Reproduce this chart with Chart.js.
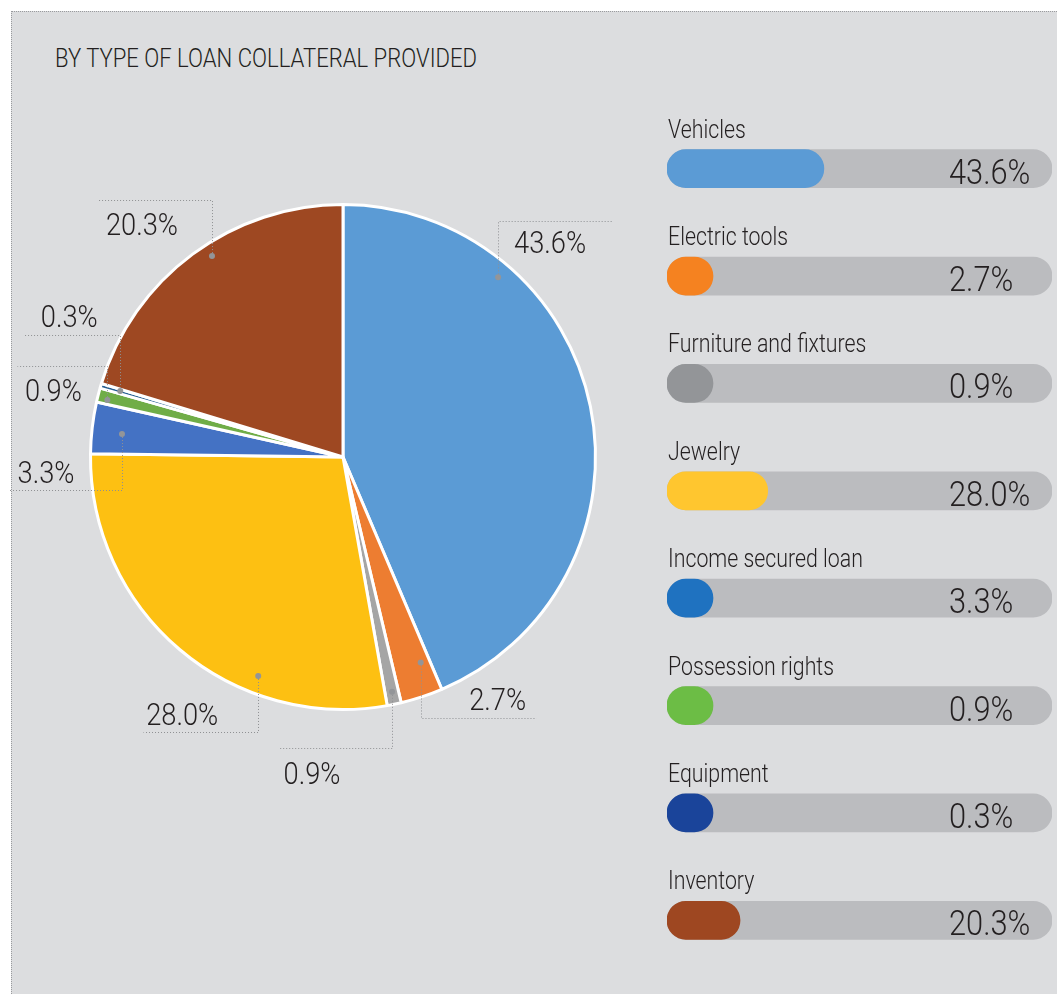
<!DOCTYPE html>
<html>
<head>
<meta charset="utf-8">
<script src="https://cdn.jsdelivr.net/npm/chart.js@4.4.1/dist/chart.umd.min.js"></script>
<style>
  body { margin: 0; background: #ffffff; width: 1057px; height: 994px; position: relative; overflow: hidden; }
  #frame { position: absolute; left: 11px; top: 11px; width: 1046px; height: 983px; background: #dcdddf;
           border-top: 1px dotted #9a9b9e; border-left: 1px dotted #9a9b9e; box-sizing: border-box; }
  #title { position: absolute; left: 55px; top: 45px; font: 300 26px Roboto, "Liberation Sans", sans-serif;
           color: #231f20; line-height: 26px; white-space: nowrap; transform: scaleX(0.85); transform-origin: left top; }
  #pie { position: absolute; left: 0; top: 150px; }
  #bars { position: absolute; left: 667px; top: 115px; }
</style>
</head>
<body>
<div id="frame"></div>
<div id="title">BY TYPE OF LOAN COLLATERAL PROVIDED</div>
<canvas id="pie" width="640" height="660"></canvas>
<canvas id="bars" width="385" height="859"></canvas>
<script>
// data
const categories = ['Vehicles', 'Electric tools', 'Furniture and fixtures', 'Jewelry',
                    'Income secured loan', 'Possession rights', 'Equipment', 'Inventory'];
const shares = [43.6, 2.7, 0.9, 28.0, 3.3, 0.9, 0.3, 20.3];
const pieColors = ['#5b9bd5', '#ed7d31', '#a5a5a5', '#fdc012', '#4472c4', '#70ad47', '#255e91', '#9e4822'];
const barColors = ['#5b9bd5', '#f58220', '#939598', '#ffc62f', '#1f72c0', '#6cbd45', '#1a449a', '#9e4721'];
const TRACK_MAX = 107;

const FONT = 'Roboto, "Liberation Sans", sans-serif';
const INK = '#231f20';
const fmt = v => v.toFixed(1) + '%';

// condensed look: squeeze text horizontally
function squeezeText(ctx, text, x, y, size, sx, align) {
    ctx.save();
    ctx.translate(x, y);
    ctx.scale(sx, 1);
    ctx.font = '300 ' + size + 'px ' + FONT;
    ctx.textAlign = align;
    ctx.textBaseline = 'alphabetic';
    ctx.fillStyle = INK;
    ctx.fillText(text, 0, 0);
    ctx.restore();
}

// where each callout sits: t = position along slice, rf = radius fraction,
// dy = vertical leg, hx = horizontal leg, tx/ty = label centre / baseline from the elbow
const callouts = [
    { t: 0.26, rf: 0.94, dy: -56, hx: 115, tx: 52, ty: 32 },
    { t: 0.24, rf: 0.87, dy: 56, hx: 115, tx: 77, ty: -8 },
    { t: 0.47, rf: 0.95, dy: 56, hx: -114, tx: -80, ty: 36 },
    { t: 0.31, rf: 0.93, dy: 56, hx: -115, tx: -76, ty: -7 },
    { t: 0.44, rf: 0.88, dy: 56, hx: -113, tx: -76, ty: -7 },
    { t: 0.3, rf: 0.96, dy: -34, hx: -90, tx: -54, ty: 35 },
    { t: 0.6, rf: 0.92, dy: -56, hx: -96, tx: -51, ty: -8 },
    { t: 0.547, rf: 0.95, dy: -56, hx: -114, tx: -70, ty: 35 }
];

const calloutPlugin = {
    id: 'callouts',
    afterDatasetsDraw(chart) {
        const ctx = chart.ctx;
        const arcs = chart.getDatasetMeta(0).data;
        arcs.forEach((arc, i) => {
            const c = callouts[i];
            const a = arc.startAngle + c.t * (arc.endAngle - arc.startAngle);
            const px = arc.x + Math.cos(a) * arc.outerRadius * c.rf;
            const py = arc.y + Math.sin(a) * arc.outerRadius * c.rf;
            const ey = py + c.dy;
            ctx.save();
            ctx.strokeStyle = '#8f9093';
            ctx.lineWidth = 1;
            ctx.setLineDash([1, 2]);
            ctx.beginPath();
            ctx.moveTo(Math.round(px) + 0.5, py);
            ctx.lineTo(Math.round(px) + 0.5, Math.round(ey) + 0.5);
            ctx.lineTo(Math.round(px + c.hx) + 0.5, Math.round(ey) + 0.5);
            ctx.stroke();
            ctx.setLineDash([]);
            ctx.fillStyle = '#939598';
            ctx.beginPath();
            ctx.arc(px, py, 3, 0, Math.PI * 2);
            ctx.fill();
            ctx.restore();
            squeezeText(ctx, fmt(shares[i]), px + c.tx, ey + c.ty, 31, 0.88, 'center');
        });
    }
};

new Chart(document.getElementById('pie'), {
    type: 'pie',
    data: {
        labels: categories,
        datasets: [{
            data: shares,
            backgroundColor: pieColors,
            borderColor: '#ffffff',
            borderWidth: 3,
            hoverBorderWidth: 3,
            hoverOffset: 0
        }]
    },
    options: {
        responsive: false,
        animation: false,
        events: [],
        layout: { padding: { left: 89, right: 43, top: 53, bottom: 99 } },
        plugins: { legend: { display: false }, tooltip: { enabled: false } }
    },
    plugins: [calloutPlugin]
});

// bar "legend" on the right
const barLabelPlugin = {
    id: 'barLabels',
    afterDatasetsDraw(chart) {
        const ctx = chart.ctx;
        const bars = chart.getDatasetMeta(0).data;
        const left = chart.chartArea.left;
        bars.forEach((bar, i) => {
            squeezeText(ctx, categories[i], left + 1, bar.y - 31, 26, 0.82, 'left');
            squeezeText(ctx, fmt(shares[i]), left + 282, bar.y + 15, 35, 0.88, 'left');
        });
    }
};

new Chart(document.getElementById('bars'), {
    type: 'bar',
    data: {
        labels: categories,
        datasets: [
            {
                data: shares,
                backgroundColor: barColors,
                borderRadius: 19,
                borderSkipped: false,
                minBarLength: 46,
                barThickness: 38,
                grouped: false,
                order: 1
            },
            {
                data: categories.map(() => TRACK_MAX),
                backgroundColor: '#bbbcbf',
                borderRadius: 19,
                borderSkipped: false,
                barThickness: 38,
                grouped: false,
                order: 2
            }
        ]
    },
    options: {
        indexAxis: 'y',
        responsive: false,
        animation: false,
        events: [],
        layout: { padding: 0 },
        scales: {
            x: { display: false, min: 0, max: TRACK_MAX },
            y: { display: false }
        },
        plugins: { legend: { display: false }, tooltip: { enabled: false } }
    },
    plugins: [barLabelPlugin]
});
</script>
</body>
</html>
